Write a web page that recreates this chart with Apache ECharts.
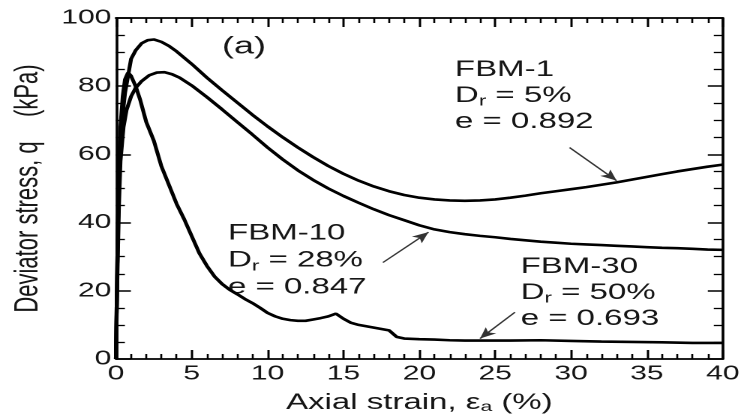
<!DOCTYPE html>
<html><head><meta charset="utf-8">
<script src="https://cdn.jsdelivr.net/npm/echarts@6/dist/echarts.min.js"></script>
<style>
html,body{margin:0;padding:0;background:#fff;overflow:hidden}
#wrap{width:744px;height:419px;overflow:hidden;position:relative;background:#fff}
#chart{width:496px;height:419px;transform:scaleX(1.5);transform-origin:0 0}
</style>
</head><body><div id="wrap"><div id="chart"></div></div>
<script>
// ---- data (axial strain %, deviator stress kPa) ----
var fbm1 = [[0,0],[0.1,30],[0.2,55],[0.3,65],[0.45,72],[0.6,78],[0.8,83],[1.0,88],[1.3,90.5],[1.7,92.6],[2.1,93.5],[2.5,93.7],[3.0,93],[3.5,91.8],[4.0,90.2],[5,86.5],[6,82.5],[7,78.8],[8,75.2],[9,71.6],[10,68.2],[11,65],[12,62],[13,59.2],[14,56.6],[15,54.3],[16,52.3],[17,50.6],[18,49.2],[19,48.1],[20,47.3],[21,46.8],[22,46.5],[23,46.4],[24,46.5],[25,46.8],[26,47.3],[27,47.9],[28,48.6],[29,49.2],[30,49.8],[31,50.4],[32,51.1],[33,51.8],[34,52.6],[35,53.4],[36,54.2],[37,55],[38,55.7],[39,56.4],[40,57]];
var fbm10 = [[0,0],[0.1,25],[0.2,45],[0.3,58],[0.5,68],[0.7,73],[1.0,77],[1.3,79.5],[1.7,81.5],[2.2,83.2],[2.7,84],[3.2,84.1],[3.7,83.5],[4.2,82.5],[5,80.2],[6,76.8],[7,73.2],[8,69.5],[9,65.8],[10,62],[11,58.5],[12,55.3],[13,52.5],[14,50],[15,47.8],[16,45.8],[17,43.9],[18,42.2],[19,40.7],[20,39.2],[21,38],[22,37.2],[23,36.6],[24,36.1],[25,35.7],[26,35.2],[27,34.8],[28,34.4],[29,34.1],[30,33.8],[31,33.6],[32,33.4],[33,33.2],[34,33],[35,32.8],[36,32.6],[37,32.5],[38,32.3],[39,32.1],[40,32]];
var fbm30 = [[0,0],[0.1,30],[0.2,55],[0.3,68],[0.45,77],[0.6,82],[0.8,84],[1.0,83],[1.3,80],[1.6,76],[2.0,69.5],[2.5,64],[3.0,56.5],[3.5,51],[4.0,45.5],[4.5,41],[5.0,36],[5.5,31],[6.0,27.3],[6.5,24.2],[7.0,22],[7.5,20.3],[8.0,19],[8.5,17.6],[9.0,16.4],[9.5,15],[10,13.5],[10.5,12.5],[11,11.8],[11.5,11.4],[12,11.2],[12.5,11.2],[13,11.6],[13.5,12],[14,12.5],[14.5,13.3],[15,11.8],[15.5,10.6],[16,10],[16.5,9.6],[17,9.2],[17.5,8.8],[18,8.4],[18.5,6.5],[19,6],[20,5.8],[21,5.7],[22,5.5],[23,5.4],[24,5.4],[26,5.4],[28,5.5],[30,5.3],[32,5.1],[34,5],[36,4.9],[38,4.7],[40,4.7]];
// arrows: [from, to] in data coords
var arrow1 = [[29.9,62],[33,52.3]];
var arrow10 = [[17.6,28.3],[20.6,37.2]];
var arrow30 = [[26.3,13.7],[24.0,6.0]];
var labels1 = ['FBM-1','5%','0.892'];
var labels10 = ['FBM-10','28%','0.847'];
var labels30 = ['FBM-30','50%','0.693'];
var xMin = 0, xMax = 40, xStep = 5;
var yMin = 0, yMax = 100, yStep = 20;

var FONT = '"Liberation Sans", Arial, Helvetica, sans-serif';
var TXT = '#161616';
var chart = echarts.init(document.getElementById('chart'), null, {devicePixelRatio: 2});

function axisCommon(extra) {
  var base = {
    axisLine: {show: true, onZero: false, lineStyle: {color: '#000', width: 1.8}},
    splitLine: {show: false},
    minorSplitLine: {show: false}
  };
  for (var k in extra) base[k] = extra[k];
  return base;
}
function rich() {
  return {
    n: {fontSize: 22, fontFamily: FONT, fill: TXT, color: TXT, lineHeight: 26},
    s: {fontSize: 15, fontFamily: FONT, fill: TXT, color: TXT, lineHeight: 10, verticalAlign: 'bottom'}
  };
}
function block(lbl) {
  return '{n|' + lbl[0] + '}\n{n|D}{s|r}{n| = ' + lbl[1] + '}\n{n|e = ' + lbl[2] + '}';
}
function lineSeries(name, data) {
  return {
    name: name, type: 'line', data: data, showSymbol: false, symbol: 'none',
    lineStyle: {color: '#000', width: 2.6}, animation: false, z: 3
  };
}
function arrowLine(a) {
  return {
    type: 'line', data: [], xAxisIndex: 0, yAxisIndex: 0,
    markLine: {
      silent: true, animation: false, symbol: ['none', 'arrow'], symbolSize: [7, 11],
      lineStyle: {color: '#333', width: 1.2, type: 'solid'},
      label: {show: false},
      data: [[{coord: a[0]}, {coord: a[1]}]]
    }
  };
}

var option = {
  animation: false,
  backgroundColor: '#fff',
  grid: {left: 69.33, right: 13.33, top: 18, bottom: 59, containLabel: false},
  xAxis: [
    axisCommon({
      type: 'value', min: xMin, max: xMax, interval: xStep, position: 'bottom',
      axisTick: {show: true, inside: true, length: 9, lineStyle: {color: '#000', width: 1.5}},
      minorTick: {show: true, splitNumber: 5, length: 5, lineStyle: {color: '#000', width: 1.3}},
      axisLabel: {color: TXT, fontSize: 20, fontFamily: FONT, margin: 5},
      name: 'Axial strain, ε{sub|a} (%)', nameLocation: 'middle', nameGap: 33,
      nameTextStyle: {color: TXT, fontSize: 22, fontFamily: FONT,
        rich: {sub: {fontSize: 14, color: TXT, fontFamily: FONT, verticalAlign: 'bottom', lineHeight: 8}}}
    }),
    axisCommon({
      type: 'value', min: xMin, max: xMax, interval: xStep, position: 'top',
      axisTick: {show: true, inside: true, length: 9, lineStyle: {color: '#000', width: 1.5}},
      minorTick: {show: true, splitNumber: 5, length: 5, lineStyle: {color: '#000', width: 1.3}},
      axisLabel: {show: false}
    })
  ],
  yAxis: [
    axisCommon({
      type: 'value', min: yMin, max: yMax, interval: yStep, position: 'left',
      axisTick: {show: true, inside: true, length: 10, lineStyle: {color: '#000', width: 1.5}},
      minorTick: {show: true, splitNumber: 4, length: 6, lineStyle: {color: '#000', width: 1.3}},
      axisLabel: {color: TXT, fontSize: 20, fontFamily: FONT, margin: 3},
      name: 'Deviator stress, q    (kPa)', nameLocation: 'middle', nameGap: 38, nameRotate: 90,
      nameTextStyle: {color: TXT, fontSize: 22, fontFamily: FONT}
    }),
    axisCommon({
      type: 'value', min: yMin, max: yMax, interval: yStep, position: 'right',
      axisTick: {show: true, inside: true, length: 10, lineStyle: {color: '#000', width: 1.5}},
      minorTick: {show: true, splitNumber: 4, length: 6, lineStyle: {color: '#000', width: 1.3}},
      axisLabel: {show: false}
    })
  ],
  series: [
    lineSeries('FBM-1', fbm1),
    lineSeries('FBM-10', fbm10),
    lineSeries('FBM-30', fbm30),
    arrowLine(arrow1),
    arrowLine(arrow10),
    arrowLine(arrow30)
  ],
  graphic: [
    {type: 'text', x: 148, y: 47, style: {text: '(a)', font: '24px ' + FONT, fill: TXT, verticalAlign: 'middle'}},
    {type: 'text', x: 303.3, y: 57, style: {text: block(labels1), rich: rich(), verticalAlign: 'top'}},
    {type: 'text', x: 152, y: 220, style: {text: block(labels10), rich: (function(){var r = rich(); r.n.lineHeight = 27; return r;})(), verticalAlign: 'top'}},
    {type: 'text', x: 347.1, y: 254, style: {text: block(labels30), rich: rich(), verticalAlign: 'top'}}
  ]
};
chart.setOption(option);
</script>
</body></html>
